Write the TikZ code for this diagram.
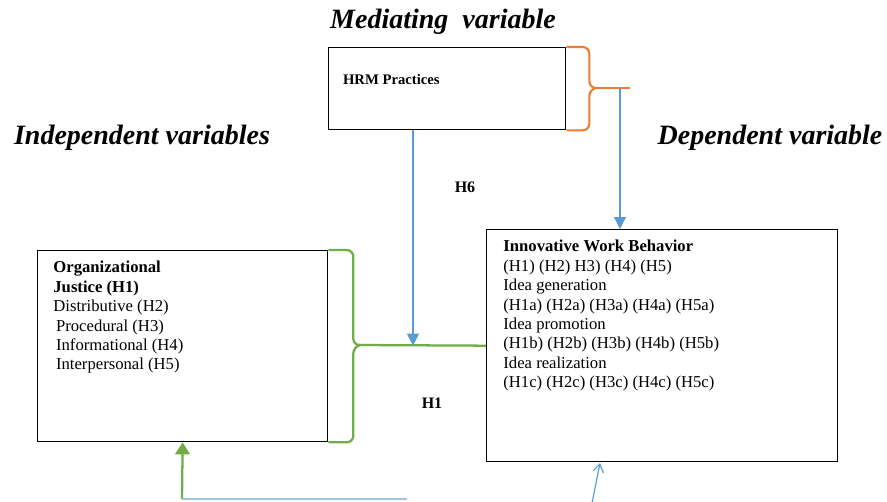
\documentclass[tikz,border=0pt]{standalone}
\usepackage{fontspec}
\setmainfont{Liberation Serif}
\usetikzlibrary{arrows.meta,positioning}
\definecolor{obrace}{RGB}{237,125,49}
\definecolor{gbrace}{RGB}{112,173,71}
\definecolor{blink}{RGB}{91,155,213}

\begin{document}
\begin{tikzpicture}
[x=0.75pt,y=-0.75pt,>={Triangle[length=9pt,width=9pt]},semithick]
\tikzstyle{box}=[draw=black,line width=1pt,inner sep=0pt,anchor=north west]
\tikzstyle{title}=[font=\fontsize{21}{24}\selectfont\bfseries\itshape]
\tikzstyle{txt}=[inner sep=0pt,align=left,font=\fontsize{12.5}{14.6}\selectfont]
\tikzstyle{hyp}=[font=\fontsize{12}{14}\selectfont\bfseries]
\tikzstyle{bline}=[blink,line width=0.9pt]
\tikzstyle{gline}=[gbrace,line width=1.7pt]
\tikzstyle{oline}=[obrace,line width=1.6pt]
\useasboundingbox (0,0) rectangle (887,501);

% boxes
\node[box,minimum width=177.75pt,minimum height=61.5pt] (hrm) at (328,47) {};
\node[box,minimum width=217.5pt,minimum height=143.25pt] (oj) at (37,250) {};
\node[box,minimum width=263.25pt,minimum height=174pt] (iwb) at (486,229) {};

% headings
\node[title] (med) at (443,22) {Mediating\ \ variable};
\node[title] (ind) at (142,138) {Independent variables};
\node[title] (dep) at (770,138) {Dependent variable};

% box texts
\node[txt,font=\fontsize{11}{13}\selectfont\bfseries,below right=20pt and 11pt of hrm.north west] (hrmt) {HRM Practices};
\node[txt,below right=8pt and 12pt of oj.north west] (ojt)
{\textbf{Organizational}\\ \textbf{Justice (H1)}\\ Distributive (H2)\\ \hspace{2pt}Procedural (H3)\\ \hspace{2pt}Informational (H4)\\ \hspace{2pt}Interpersonal (H5)};
\node[txt,below right=8pt and 12.75pt of iwb.north west] (iwbt)
{\textbf{Innovative Work Behavior}\\ (H1) (H2) H3) (H4) (H5)\\ Idea generation\\ (H1a) (H2a) (H3a) (H4a) (H5a)\\ Idea promotion\\ (H1b) (H2b) (H3b) (H4b) (H5b)\\ Idea realization\\ (H1c) (H2c) (H3c) (H4c) (H5c)};

\node[hyp] (h6t) at (465,187) {H6};
\node[hyp] (h1t) at (432,403) {H1};

\coordinate (otip) at (596,88);
\coordinate (oend) at (630,88);
\coordinate (ob) at (620,88);
\coordinate (h6) at (413,0);
\coordinate (gtip) at (360,345);
\coordinate (gb) at (182,499);
\coordinate (bend) at (407,499);
\coordinate (bu) at (592,503);
\coordinate (iw) at (600,463);

% braces
\draw[oline,rounded corners=5pt] (hrm.north east) -- ++(23,0) -- ++(0,41) -- (otip);
\draw[oline,rounded corners=5pt] (hrm.south east) -- ++(23,0) -- ++(0,-41) -- (otip);
\draw[oline] (otip) -- (oend);
\draw[gline,rounded corners=5pt] (oj.north east) -- ++(25,0) -- ++(0,95.5) -- (gtip);
\draw[gline,rounded corners=5pt] (oj.south east) -- ++(25,0) -- ++(0,-95.5) -- (gtip);
\draw[gline] (gtip) -- (iwb.west);

% links
\draw[bline,->] (hrm.south -| h6) -- (h6 |- iwb.west);
\draw[bline,->] (ob) -- (ob |- iwb.north);
\draw[gline,->,>={Triangle[length=9pt,width=11pt]}] (gb) -- (oj.south);
\draw[bline,blink!60] (gb) -- (bend);
\draw[bline,-{Straight Barb[length=6pt,width=8pt]}] (bu) -- (iw);
\end{tikzpicture}
\end{document}
